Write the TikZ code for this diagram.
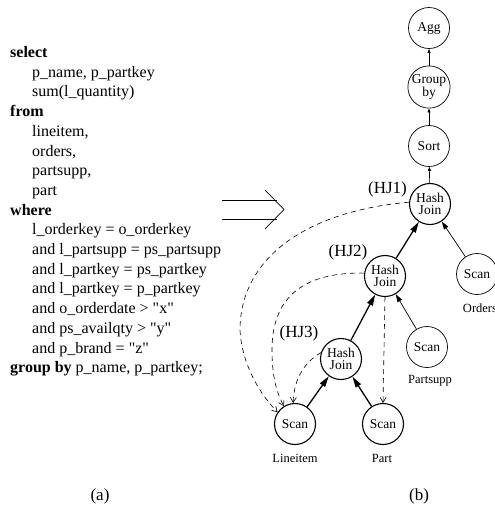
\documentclass[tikz,border=0pt]{standalone}
\usepackage{fontspec}
\setmainfont{Liberation Serif}[Ligatures=TeXOff]
\usetikzlibrary{arrows.meta}

\tikzset{
  op/.style={draw, circle, line width=0.7pt, minimum size=41pt, inner sep=0pt,
    align=center, font=\fontsize{13.5}{12.5}\selectfont},
  opj/.style={op, line width=1.1pt},
  sql/.style={anchor=base west, inner sep=0pt, font=\fontsize{16}{19.7}\selectfont},
  sub/.style={anchor=base, inner sep=0pt, font=\fontsize{12.5}{14}\selectfont},
  hjlabel/.style={anchor=base, inner sep=0pt, font=\fontsize{17}{20}\selectfont},
  flow/.style={line width=0.6pt, -{Triangle[length=4pt,width=3pt]}},
  thinflow/.style={line width=0.7pt, -{Triangle[length=8pt,width=5pt]}},
  thickflow/.style={line width=1.3pt, -{Triangle[length=11pt,width=6pt]}},
  reuse/.style={dash pattern=on 5pt off 4pt, line width=0.6pt,
    -{Straight Barb[length=5pt,width=6pt]}}
}

\begin{document}
\begin{tikzpicture}[x=1pt,y=-1pt]
  \useasboundingbox (0,0) rectangle (495,507);

  % the query
  \foreach \i/\x/\txt in {0/10/{\textbf{select}}, 1/32/{p\_name, p\_partkey},
      2/32/{sum(l\_quantity)}, 3/10/{\textbf{from}}, 4/32/{lineitem,},
      5/32/{orders,}, 6/32/{partsupp,}, 7/32/{part}, 8/10/{\textbf{where}},
      9/32/{l\_orderkey = o\_orderkey}, 10/32/{and l\_partsupp = ps\_partsupp},
      11/32/{and l\_partkey = ps\_partkey}, 12/32/{and l\_partkey = p\_partkey},
      13/32/{and o\_orderdate > "x"}, 14/32/{and ps\_availqty > "y"},
      15/32/{and p\_brand = "z"}, 16/10/{\textbf{group by} p\_name, p\_partkey;}}
    \node[sql] (q\i) at (\x, 57.5+19.7*\i) {\txt};

  % implies arrow
  \draw[line width=0.7pt] (222,200) -- (277,200) (222,219) -- (277,219);
  \draw[line width=0.7pt] (265,190) -- (284,209.5) -- (265,229);

  % plan
  \node[op] (agg) at (429,28) {Agg};
  \node[op] (grp) at (429,87) {Group\\by};
  \node[op] (sort) at (429,146) {Sort};
  \node[opj] (hj1) at (430,204) {Hash\\Join};
  \node[opj] (hj2) at (385,276) {Hash\\Join};
  \node[opj] (hj3) at (341,359) {Hash\\Join};
  \node[op] (scanO) at (477,274) {Scan};
  \node[op] (scanPS) at (427,347) {Scan};
  \node[opj] (scanL) at (295,424) {Scan};
  \node[opj] (scanP) at (383,424) {Scan};

  \node[hjlabel] (l1) at (387.5,193) {(HJ1)};
  \node[hjlabel] (l2) at (348,256) {(HJ2)};
  \node[hjlabel] (l3) at (299,337) {(HJ3)};
  \node[sub] (tO) at (480,312) {Orders};
  \node[sub] (tPS) at (430,383) {Partsupp};
  \node[sub] (tL) at (295,462) {Lineitem};
  \node[sub] (tP) at (382,462) {Part};

  \draw[flow] (grp) -- (agg);
  \draw[flow] (sort) -- (grp);
  \draw[flow] (hj1) -- (sort);
  \draw[thickflow] (hj2) -- (hj1);
  \draw[thinflow] (scanO) -- (hj1);
  \draw[thickflow] (hj3) -- (hj2);
  \draw[thinflow] (scanPS) -- (hj2);
  \draw[thickflow] (scanL) -- (hj3);
  \draw[thickflow] (scanP) -- (hj3);

  \draw[reuse] (hj1.175) .. controls (300,212) and (240,262) .. (240,330)
    .. controls (242,367) and (262,396) .. (scanL.146);
  \draw[reuse] (hj2.172) .. controls (300,272) and (272,300) .. (272,350)
    .. controls (272,380) and (278,395) .. (scanL.122);
  \draw[reuse] (hj3.162) .. controls (305,362) and (294,378) .. (scanL.95);
  \draw[reuse] (hj2.south) -- (scanP.north);

  \node[hjlabel] (capA) at (100,500) {(a)};
  \node[hjlabel] (capB) at (419,500) {(b)};
\end{tikzpicture}
\end{document}
